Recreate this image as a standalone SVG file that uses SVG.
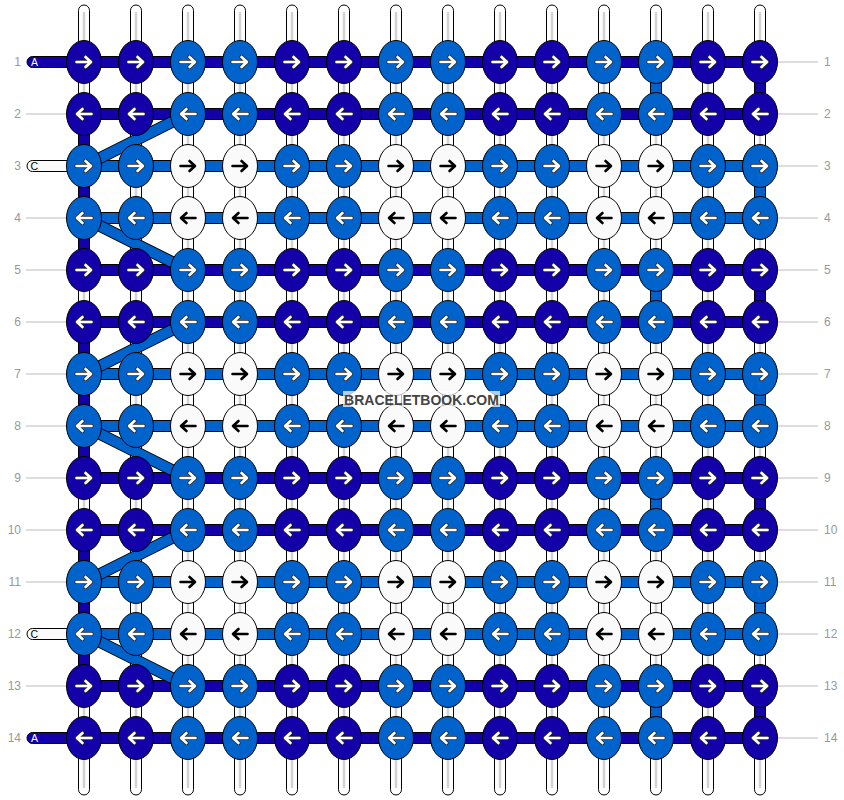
<svg xmlns="http://www.w3.org/2000/svg" xmlns:xlink="http://www.w3.org/1999/xlink" width="844" height="800" viewBox="0 0 844 800">
<style>
.str{fill:#fff;stroke:#000;stroke-width:1}
.core{stroke:#d2d2d2;stroke-width:2.5}
.bD{fill:#1300a8;stroke:#000;stroke-width:1}
.bM{fill:#0063cc;stroke:#000;stroke-width:1}
.bW{fill:#fafafa;stroke:#000;stroke-width:1}
.dgo{stroke:#000;stroke-width:12;fill:none}
.dgi{stroke:#0063cc;stroke-width:10;fill:none}
ellipse{stroke:#000;stroke-width:1}
.D{fill:#1300a8}
.M{fill:#0063cc}
.W{fill:#fafafa}
.aw{color:#2a2a2a;stroke:#fff}
.ab{color:transparent;stroke:#000}
.gl{stroke:#bbb;stroke-width:1}
.num{font-family:"Liberation Sans",Arial,sans-serif;font-size:12px;fill:#999}
.lt{font-family:"Liberation Sans",Arial,sans-serif;font-size:10.5px}
.wm{font-family:"Liberation Sans",Arial,sans-serif;font-size:14px;font-weight:bold;fill:#444}
</style>
<defs>
<g id="R" fill="none" stroke-linecap="round" stroke-linejoin="round"><path d="M-7.5,0H6.5M1.5,-5L7,0L1.5,5" stroke="currentColor" stroke-width="4.2"/><path d="M-7.5,0H6.5M1.5,-5L7,0L1.5,5" stroke-width="2.6"/></g>
<g id="L" fill="none" stroke-linecap="round" stroke-linejoin="round"><path d="M7.5,0H-6.5M-1.5,-5L-7,0L-1.5,5" stroke="currentColor" stroke-width="4.2"/><path d="M7.5,0H-6.5M-1.5,-5L-7,0L-1.5,5" stroke-width="2.6"/></g>
</defs>
<g id="connectors">
<g id="strands">
<rect class="str" x="78.5" y="5" width="11" height="790" rx="5.5"/><line class="core" x1="84" y1="12" x2="84" y2="788"/>
<rect class="str" x="130.5" y="5" width="11" height="790" rx="5.5"/><line class="core" x1="136" y1="12" x2="136" y2="788"/>
<rect class="str" x="182.5" y="5" width="11" height="790" rx="5.5"/><line class="core" x1="188" y1="12" x2="188" y2="788"/>
<rect class="str" x="234.5" y="5" width="11" height="790" rx="5.5"/><line class="core" x1="240" y1="12" x2="240" y2="788"/>
<rect class="str" x="286.5" y="5" width="11" height="790" rx="5.5"/><line class="core" x1="292" y1="12" x2="292" y2="788"/>
<rect class="str" x="338.5" y="5" width="11" height="790" rx="5.5"/><line class="core" x1="344" y1="12" x2="344" y2="788"/>
<rect class="str" x="390.5" y="5" width="11" height="790" rx="5.5"/><line class="core" x1="396" y1="12" x2="396" y2="788"/>
<rect class="str" x="442.5" y="5" width="11" height="790" rx="5.5"/><line class="core" x1="448" y1="12" x2="448" y2="788"/>
<rect class="str" x="494.5" y="5" width="11" height="790" rx="5.5"/><line class="core" x1="500" y1="12" x2="500" y2="788"/>
<rect class="str" x="546.5" y="5" width="11" height="790" rx="5.5"/><line class="core" x1="552" y1="12" x2="552" y2="788"/>
<rect class="str" x="598.5" y="5" width="11" height="790" rx="5.5"/><line class="core" x1="604" y1="12" x2="604" y2="788"/>
<rect class="str" x="650.5" y="5" width="11" height="790" rx="5.5"/><line class="core" x1="656" y1="12" x2="656" y2="788"/>
<rect class="str" x="702.5" y="5" width="11" height="790" rx="5.5"/><line class="core" x1="708" y1="12" x2="708" y2="788"/>
<rect class="str" x="754.5" y="5" width="11" height="790" rx="5.5"/><line class="core" x1="760" y1="12" x2="760" y2="788"/>
</g>
<g id="vsegs">
<rect class="bD" x="78.5" y="114" width="11" height="156"/>
<rect class="bD" x="78.5" y="322" width="11" height="156"/>
<rect class="bD" x="78.5" y="530" width="11" height="156"/>
<rect class="bM" x="650.5" y="62" width="11" height="52"/>
<rect class="bM" x="650.5" y="270" width="11" height="52"/>
<rect class="bM" x="650.5" y="478" width="11" height="52"/>
<rect class="bM" x="650.5" y="686" width="11" height="52"/>
<rect class="bD" x="754.5" y="62" width="11" height="52"/>
<rect class="bD" x="754.5" y="270" width="11" height="52"/>
<rect class="bD" x="754.5" y="478" width="11" height="52"/>
<rect class="bD" x="754.5" y="686" width="11" height="52"/>
<rect class="bM" x="754.5" y="166" width="11" height="52"/>
<rect class="bM" x="754.5" y="374" width="11" height="52"/>
<rect class="bM" x="754.5" y="582" width="11" height="52"/>
</g>
<g id="hbars">
<rect class="bD" x="84" y="56.5" width="676" height="11"/>
<rect class="bD" x="84" y="108.5" width="676" height="11"/>
<rect class="bM" x="84" y="160.5" width="676" height="11"/>
<rect class="bM" x="84" y="212.5" width="676" height="11"/>
<rect class="bD" x="84" y="264.5" width="676" height="11"/>
<rect class="bD" x="84" y="316.5" width="676" height="11"/>
<rect class="bM" x="84" y="368.5" width="676" height="11"/>
<rect class="bM" x="84" y="420.5" width="676" height="11"/>
<rect class="bD" x="84" y="472.5" width="676" height="11"/>
<rect class="bD" x="84" y="524.5" width="676" height="11"/>
<rect class="bM" x="84" y="576.5" width="676" height="11"/>
<rect class="bM" x="84" y="628.5" width="676" height="11"/>
<rect class="bD" x="84" y="680.5" width="676" height="11"/>
<rect class="bD" x="84" y="732.5" width="676" height="11"/>
</g>
<g id="starts">
<rect class="bD" x="27" y="56.5" width="62" height="11" rx="5.5"/>
<text class="lt" x="31" y="65.8" fill="#fff">A</text>
<rect class="bW" x="27" y="160.5" width="62" height="11" rx="5.5"/>
<text class="lt" x="30.5" y="169.8" fill="#000">C</text>
<rect class="bW" x="27" y="628.5" width="62" height="11" rx="5.5"/>
<text class="lt" x="30.5" y="637.8" fill="#000">C</text>
<rect class="bD" x="27" y="732.5" width="62" height="11" rx="5.5"/>
<text class="lt" x="31" y="741.8" fill="#fff">A</text>
</g>
<g id="diagonals">
<path class="dgo" d="M84,166L188,114"/><path class="dgi" d="M84,166L188,114"/>
<path class="dgo" d="M84,218L188,270"/><path class="dgi" d="M84,218L188,270"/>
<path class="dgo" d="M84,374L188,322"/><path class="dgi" d="M84,374L188,322"/>
<path class="dgo" d="M84,426L188,478"/><path class="dgi" d="M84,426L188,478"/>
<path class="dgo" d="M84,582L188,530"/><path class="dgi" d="M84,582L188,530"/>
<path class="dgo" d="M84,634L188,686"/><path class="dgi" d="M84,634L188,686"/>
</g>
<g id="guides">
<line class="gl" x1="26" y1="114" x2="67" y2="114"/>
<line class="gl" x1="26" y1="218" x2="67" y2="218"/>
<line class="gl" x1="26" y1="270" x2="67" y2="270"/>
<line class="gl" x1="26" y1="322" x2="67" y2="322"/>
<line class="gl" x1="26" y1="374" x2="67" y2="374"/>
<line class="gl" x1="26" y1="426" x2="67" y2="426"/>
<line class="gl" x1="26" y1="478" x2="67" y2="478"/>
<line class="gl" x1="26" y1="530" x2="67" y2="530"/>
<line class="gl" x1="26" y1="582" x2="67" y2="582"/>
<line class="gl" x1="26" y1="686" x2="67" y2="686"/>
<line class="gl" x1="777" y1="62" x2="818" y2="62"/>
<line class="gl" x1="777" y1="114" x2="818" y2="114"/>
<line class="gl" x1="777" y1="166" x2="818" y2="166"/>
<line class="gl" x1="777" y1="218" x2="818" y2="218"/>
<line class="gl" x1="777" y1="270" x2="818" y2="270"/>
<line class="gl" x1="777" y1="322" x2="818" y2="322"/>
<line class="gl" x1="777" y1="374" x2="818" y2="374"/>
<line class="gl" x1="777" y1="426" x2="818" y2="426"/>
<line class="gl" x1="777" y1="478" x2="818" y2="478"/>
<line class="gl" x1="777" y1="530" x2="818" y2="530"/>
<line class="gl" x1="777" y1="582" x2="818" y2="582"/>
<line class="gl" x1="777" y1="634" x2="818" y2="634"/>
<line class="gl" x1="777" y1="686" x2="818" y2="686"/>
<line class="gl" x1="777" y1="738" x2="818" y2="738"/>
</g>
</g>
<g id="labels">
<text class="num" x="21" y="66.3" text-anchor="end">1</text>
<text class="num" x="21" y="118.3" text-anchor="end">2</text>
<text class="num" x="21" y="170.3" text-anchor="end">3</text>
<text class="num" x="21" y="222.3" text-anchor="end">4</text>
<text class="num" x="21" y="274.3" text-anchor="end">5</text>
<text class="num" x="21" y="326.3" text-anchor="end">6</text>
<text class="num" x="21" y="378.3" text-anchor="end">7</text>
<text class="num" x="21" y="430.3" text-anchor="end">8</text>
<text class="num" x="21" y="482.3" text-anchor="end">9</text>
<text class="num" x="21" y="534.3" text-anchor="end">10</text>
<text class="num" x="21" y="586.3" text-anchor="end">11</text>
<text class="num" x="21" y="638.3" text-anchor="end">12</text>
<text class="num" x="21" y="690.3" text-anchor="end">13</text>
<text class="num" x="21" y="742.3" text-anchor="end">14</text>
<text class="num" x="824" y="66.3">1</text>
<text class="num" x="824" y="118.3">2</text>
<text class="num" x="824" y="170.3">3</text>
<text class="num" x="824" y="222.3">4</text>
<text class="num" x="824" y="274.3">5</text>
<text class="num" x="824" y="326.3">6</text>
<text class="num" x="824" y="378.3">7</text>
<text class="num" x="824" y="430.3">8</text>
<text class="num" x="824" y="482.3">9</text>
<text class="num" x="824" y="534.3">10</text>
<text class="num" x="824" y="586.3">11</text>
<text class="num" x="824" y="638.3">12</text>
<text class="num" x="824" y="690.3">13</text>
<text class="num" x="824" y="742.3">14</text>
</g>
<g id="knots">
<g id="r1">
<g id="k1_1"><ellipse class="D" cx="84" cy="62" rx="17.5" ry="21.5"/><use href="#R" x="84" y="62" class="aw"/></g>
<g id="k1_2"><ellipse class="D" cx="136" cy="62" rx="17.5" ry="21.5"/><use href="#R" x="136" y="62" class="aw"/></g>
<g id="k1_3"><ellipse class="M" cx="188" cy="62" rx="17.5" ry="21.5"/><use href="#R" x="188" y="62" class="aw"/></g>
<g id="k1_4"><ellipse class="M" cx="240" cy="62" rx="17.5" ry="21.5"/><use href="#R" x="240" y="62" class="aw"/></g>
<g id="k1_5"><ellipse class="D" cx="292" cy="62" rx="17.5" ry="21.5"/><use href="#R" x="292" y="62" class="aw"/></g>
<g id="k1_6"><ellipse class="D" cx="344" cy="62" rx="17.5" ry="21.5"/><use href="#R" x="344" y="62" class="aw"/></g>
<g id="k1_7"><ellipse class="M" cx="396" cy="62" rx="17.5" ry="21.5"/><use href="#R" x="396" y="62" class="aw"/></g>
<g id="k1_8"><ellipse class="M" cx="448" cy="62" rx="17.5" ry="21.5"/><use href="#R" x="448" y="62" class="aw"/></g>
<g id="k1_9"><ellipse class="D" cx="500" cy="62" rx="17.5" ry="21.5"/><use href="#R" x="500" y="62" class="aw"/></g>
<g id="k1_10"><ellipse class="D" cx="552" cy="62" rx="17.5" ry="21.5"/><use href="#R" x="552" y="62" class="aw"/></g>
<g id="k1_11"><ellipse class="M" cx="604" cy="62" rx="17.5" ry="21.5"/><use href="#R" x="604" y="62" class="aw"/></g>
<g id="k1_12"><ellipse class="M" cx="656" cy="62" rx="17.5" ry="21.5"/><use href="#R" x="656" y="62" class="aw"/></g>
<g id="k1_13"><ellipse class="D" cx="708" cy="62" rx="17.5" ry="21.5"/><use href="#R" x="708" y="62" class="aw"/></g>
<g id="k1_14"><ellipse class="D" cx="760" cy="62" rx="17.5" ry="21.5"/><use href="#R" x="760" y="62" class="aw"/></g>
</g>
<g id="r2">
<g id="k2_1"><ellipse class="D" cx="84" cy="114" rx="17.5" ry="21.5"/><use href="#L" x="84" y="114" class="aw"/></g>
<g id="k2_2"><ellipse class="D" cx="136" cy="114" rx="17.5" ry="21.5"/><use href="#L" x="136" y="114" class="aw"/></g>
<g id="k2_3"><ellipse class="M" cx="188" cy="114" rx="17.5" ry="21.5"/><use href="#L" x="188" y="114" class="aw"/></g>
<g id="k2_4"><ellipse class="M" cx="240" cy="114" rx="17.5" ry="21.5"/><use href="#L" x="240" y="114" class="aw"/></g>
<g id="k2_5"><ellipse class="D" cx="292" cy="114" rx="17.5" ry="21.5"/><use href="#L" x="292" y="114" class="aw"/></g>
<g id="k2_6"><ellipse class="D" cx="344" cy="114" rx="17.5" ry="21.5"/><use href="#L" x="344" y="114" class="aw"/></g>
<g id="k2_7"><ellipse class="M" cx="396" cy="114" rx="17.5" ry="21.5"/><use href="#L" x="396" y="114" class="aw"/></g>
<g id="k2_8"><ellipse class="M" cx="448" cy="114" rx="17.5" ry="21.5"/><use href="#L" x="448" y="114" class="aw"/></g>
<g id="k2_9"><ellipse class="D" cx="500" cy="114" rx="17.5" ry="21.5"/><use href="#L" x="500" y="114" class="aw"/></g>
<g id="k2_10"><ellipse class="D" cx="552" cy="114" rx="17.5" ry="21.5"/><use href="#L" x="552" y="114" class="aw"/></g>
<g id="k2_11"><ellipse class="M" cx="604" cy="114" rx="17.5" ry="21.5"/><use href="#L" x="604" y="114" class="aw"/></g>
<g id="k2_12"><ellipse class="M" cx="656" cy="114" rx="17.5" ry="21.5"/><use href="#L" x="656" y="114" class="aw"/></g>
<g id="k2_13"><ellipse class="D" cx="708" cy="114" rx="17.5" ry="21.5"/><use href="#L" x="708" y="114" class="aw"/></g>
<g id="k2_14"><ellipse class="D" cx="760" cy="114" rx="17.5" ry="21.5"/><use href="#L" x="760" y="114" class="aw"/></g>
</g>
<g id="r3">
<g id="k3_1"><ellipse class="M" cx="84" cy="166" rx="17.5" ry="21.5"/><use href="#R" x="84" y="166" class="aw"/></g>
<g id="k3_2"><ellipse class="M" cx="136" cy="166" rx="17.5" ry="21.5"/><use href="#R" x="136" y="166" class="aw"/></g>
<g id="k3_3"><ellipse class="W" cx="188" cy="166" rx="17.5" ry="21.5"/><use href="#R" x="188" y="166" class="ab"/></g>
<g id="k3_4"><ellipse class="W" cx="240" cy="166" rx="17.5" ry="21.5"/><use href="#R" x="240" y="166" class="ab"/></g>
<g id="k3_5"><ellipse class="M" cx="292" cy="166" rx="17.5" ry="21.5"/><use href="#R" x="292" y="166" class="aw"/></g>
<g id="k3_6"><ellipse class="M" cx="344" cy="166" rx="17.5" ry="21.5"/><use href="#R" x="344" y="166" class="aw"/></g>
<g id="k3_7"><ellipse class="W" cx="396" cy="166" rx="17.5" ry="21.5"/><use href="#R" x="396" y="166" class="ab"/></g>
<g id="k3_8"><ellipse class="W" cx="448" cy="166" rx="17.5" ry="21.5"/><use href="#R" x="448" y="166" class="ab"/></g>
<g id="k3_9"><ellipse class="M" cx="500" cy="166" rx="17.5" ry="21.5"/><use href="#R" x="500" y="166" class="aw"/></g>
<g id="k3_10"><ellipse class="M" cx="552" cy="166" rx="17.5" ry="21.5"/><use href="#R" x="552" y="166" class="aw"/></g>
<g id="k3_11"><ellipse class="W" cx="604" cy="166" rx="17.5" ry="21.5"/><use href="#R" x="604" y="166" class="ab"/></g>
<g id="k3_12"><ellipse class="W" cx="656" cy="166" rx="17.5" ry="21.5"/><use href="#R" x="656" y="166" class="ab"/></g>
<g id="k3_13"><ellipse class="M" cx="708" cy="166" rx="17.5" ry="21.5"/><use href="#R" x="708" y="166" class="aw"/></g>
<g id="k3_14"><ellipse class="M" cx="760" cy="166" rx="17.5" ry="21.5"/><use href="#R" x="760" y="166" class="aw"/></g>
</g>
<g id="r4">
<g id="k4_1"><ellipse class="M" cx="84" cy="218" rx="17.5" ry="21.5"/><use href="#L" x="84" y="218" class="aw"/></g>
<g id="k4_2"><ellipse class="M" cx="136" cy="218" rx="17.5" ry="21.5"/><use href="#L" x="136" y="218" class="aw"/></g>
<g id="k4_3"><ellipse class="W" cx="188" cy="218" rx="17.5" ry="21.5"/><use href="#L" x="188" y="218" class="ab"/></g>
<g id="k4_4"><ellipse class="W" cx="240" cy="218" rx="17.5" ry="21.5"/><use href="#L" x="240" y="218" class="ab"/></g>
<g id="k4_5"><ellipse class="M" cx="292" cy="218" rx="17.5" ry="21.5"/><use href="#L" x="292" y="218" class="aw"/></g>
<g id="k4_6"><ellipse class="M" cx="344" cy="218" rx="17.5" ry="21.5"/><use href="#L" x="344" y="218" class="aw"/></g>
<g id="k4_7"><ellipse class="W" cx="396" cy="218" rx="17.5" ry="21.5"/><use href="#L" x="396" y="218" class="ab"/></g>
<g id="k4_8"><ellipse class="W" cx="448" cy="218" rx="17.5" ry="21.5"/><use href="#L" x="448" y="218" class="ab"/></g>
<g id="k4_9"><ellipse class="M" cx="500" cy="218" rx="17.5" ry="21.5"/><use href="#L" x="500" y="218" class="aw"/></g>
<g id="k4_10"><ellipse class="M" cx="552" cy="218" rx="17.5" ry="21.5"/><use href="#L" x="552" y="218" class="aw"/></g>
<g id="k4_11"><ellipse class="W" cx="604" cy="218" rx="17.5" ry="21.5"/><use href="#L" x="604" y="218" class="ab"/></g>
<g id="k4_12"><ellipse class="W" cx="656" cy="218" rx="17.5" ry="21.5"/><use href="#L" x="656" y="218" class="ab"/></g>
<g id="k4_13"><ellipse class="M" cx="708" cy="218" rx="17.5" ry="21.5"/><use href="#L" x="708" y="218" class="aw"/></g>
<g id="k4_14"><ellipse class="M" cx="760" cy="218" rx="17.5" ry="21.5"/><use href="#L" x="760" y="218" class="aw"/></g>
</g>
<g id="r5">
<g id="k5_1"><ellipse class="D" cx="84" cy="270" rx="17.5" ry="21.5"/><use href="#R" x="84" y="270" class="aw"/></g>
<g id="k5_2"><ellipse class="D" cx="136" cy="270" rx="17.5" ry="21.5"/><use href="#R" x="136" y="270" class="aw"/></g>
<g id="k5_3"><ellipse class="M" cx="188" cy="270" rx="17.5" ry="21.5"/><use href="#R" x="188" y="270" class="aw"/></g>
<g id="k5_4"><ellipse class="M" cx="240" cy="270" rx="17.5" ry="21.5"/><use href="#R" x="240" y="270" class="aw"/></g>
<g id="k5_5"><ellipse class="D" cx="292" cy="270" rx="17.5" ry="21.5"/><use href="#R" x="292" y="270" class="aw"/></g>
<g id="k5_6"><ellipse class="D" cx="344" cy="270" rx="17.5" ry="21.5"/><use href="#R" x="344" y="270" class="aw"/></g>
<g id="k5_7"><ellipse class="M" cx="396" cy="270" rx="17.5" ry="21.5"/><use href="#R" x="396" y="270" class="aw"/></g>
<g id="k5_8"><ellipse class="M" cx="448" cy="270" rx="17.5" ry="21.5"/><use href="#R" x="448" y="270" class="aw"/></g>
<g id="k5_9"><ellipse class="D" cx="500" cy="270" rx="17.5" ry="21.5"/><use href="#R" x="500" y="270" class="aw"/></g>
<g id="k5_10"><ellipse class="D" cx="552" cy="270" rx="17.5" ry="21.5"/><use href="#R" x="552" y="270" class="aw"/></g>
<g id="k5_11"><ellipse class="M" cx="604" cy="270" rx="17.5" ry="21.5"/><use href="#R" x="604" y="270" class="aw"/></g>
<g id="k5_12"><ellipse class="M" cx="656" cy="270" rx="17.5" ry="21.5"/><use href="#R" x="656" y="270" class="aw"/></g>
<g id="k5_13"><ellipse class="D" cx="708" cy="270" rx="17.5" ry="21.5"/><use href="#R" x="708" y="270" class="aw"/></g>
<g id="k5_14"><ellipse class="D" cx="760" cy="270" rx="17.5" ry="21.5"/><use href="#R" x="760" y="270" class="aw"/></g>
</g>
<g id="r6">
<g id="k6_1"><ellipse class="D" cx="84" cy="322" rx="17.5" ry="21.5"/><use href="#L" x="84" y="322" class="aw"/></g>
<g id="k6_2"><ellipse class="D" cx="136" cy="322" rx="17.5" ry="21.5"/><use href="#L" x="136" y="322" class="aw"/></g>
<g id="k6_3"><ellipse class="M" cx="188" cy="322" rx="17.5" ry="21.5"/><use href="#L" x="188" y="322" class="aw"/></g>
<g id="k6_4"><ellipse class="M" cx="240" cy="322" rx="17.5" ry="21.5"/><use href="#L" x="240" y="322" class="aw"/></g>
<g id="k6_5"><ellipse class="D" cx="292" cy="322" rx="17.5" ry="21.5"/><use href="#L" x="292" y="322" class="aw"/></g>
<g id="k6_6"><ellipse class="D" cx="344" cy="322" rx="17.5" ry="21.5"/><use href="#L" x="344" y="322" class="aw"/></g>
<g id="k6_7"><ellipse class="M" cx="396" cy="322" rx="17.5" ry="21.5"/><use href="#L" x="396" y="322" class="aw"/></g>
<g id="k6_8"><ellipse class="M" cx="448" cy="322" rx="17.5" ry="21.5"/><use href="#L" x="448" y="322" class="aw"/></g>
<g id="k6_9"><ellipse class="D" cx="500" cy="322" rx="17.5" ry="21.5"/><use href="#L" x="500" y="322" class="aw"/></g>
<g id="k6_10"><ellipse class="D" cx="552" cy="322" rx="17.5" ry="21.5"/><use href="#L" x="552" y="322" class="aw"/></g>
<g id="k6_11"><ellipse class="M" cx="604" cy="322" rx="17.5" ry="21.5"/><use href="#L" x="604" y="322" class="aw"/></g>
<g id="k6_12"><ellipse class="M" cx="656" cy="322" rx="17.5" ry="21.5"/><use href="#L" x="656" y="322" class="aw"/></g>
<g id="k6_13"><ellipse class="D" cx="708" cy="322" rx="17.5" ry="21.5"/><use href="#L" x="708" y="322" class="aw"/></g>
<g id="k6_14"><ellipse class="D" cx="760" cy="322" rx="17.5" ry="21.5"/><use href="#L" x="760" y="322" class="aw"/></g>
</g>
<g id="r7">
<g id="k7_1"><ellipse class="M" cx="84" cy="374" rx="17.5" ry="21.5"/><use href="#R" x="84" y="374" class="aw"/></g>
<g id="k7_2"><ellipse class="M" cx="136" cy="374" rx="17.5" ry="21.5"/><use href="#R" x="136" y="374" class="aw"/></g>
<g id="k7_3"><ellipse class="W" cx="188" cy="374" rx="17.5" ry="21.5"/><use href="#R" x="188" y="374" class="ab"/></g>
<g id="k7_4"><ellipse class="W" cx="240" cy="374" rx="17.5" ry="21.5"/><use href="#R" x="240" y="374" class="ab"/></g>
<g id="k7_5"><ellipse class="M" cx="292" cy="374" rx="17.5" ry="21.5"/><use href="#R" x="292" y="374" class="aw"/></g>
<g id="k7_6"><ellipse class="M" cx="344" cy="374" rx="17.5" ry="21.5"/><use href="#R" x="344" y="374" class="aw"/></g>
<g id="k7_7"><ellipse class="W" cx="396" cy="374" rx="17.5" ry="21.5"/><use href="#R" x="396" y="374" class="ab"/></g>
<g id="k7_8"><ellipse class="W" cx="448" cy="374" rx="17.5" ry="21.5"/><use href="#R" x="448" y="374" class="ab"/></g>
<g id="k7_9"><ellipse class="M" cx="500" cy="374" rx="17.5" ry="21.5"/><use href="#R" x="500" y="374" class="aw"/></g>
<g id="k7_10"><ellipse class="M" cx="552" cy="374" rx="17.5" ry="21.5"/><use href="#R" x="552" y="374" class="aw"/></g>
<g id="k7_11"><ellipse class="W" cx="604" cy="374" rx="17.5" ry="21.5"/><use href="#R" x="604" y="374" class="ab"/></g>
<g id="k7_12"><ellipse class="W" cx="656" cy="374" rx="17.5" ry="21.5"/><use href="#R" x="656" y="374" class="ab"/></g>
<g id="k7_13"><ellipse class="M" cx="708" cy="374" rx="17.5" ry="21.5"/><use href="#R" x="708" y="374" class="aw"/></g>
<g id="k7_14"><ellipse class="M" cx="760" cy="374" rx="17.5" ry="21.5"/><use href="#R" x="760" y="374" class="aw"/></g>
</g>
<g id="r8">
<g id="k8_1"><ellipse class="M" cx="84" cy="426" rx="17.5" ry="21.5"/><use href="#L" x="84" y="426" class="aw"/></g>
<g id="k8_2"><ellipse class="M" cx="136" cy="426" rx="17.5" ry="21.5"/><use href="#L" x="136" y="426" class="aw"/></g>
<g id="k8_3"><ellipse class="W" cx="188" cy="426" rx="17.5" ry="21.5"/><use href="#L" x="188" y="426" class="ab"/></g>
<g id="k8_4"><ellipse class="W" cx="240" cy="426" rx="17.5" ry="21.5"/><use href="#L" x="240" y="426" class="ab"/></g>
<g id="k8_5"><ellipse class="M" cx="292" cy="426" rx="17.5" ry="21.5"/><use href="#L" x="292" y="426" class="aw"/></g>
<g id="k8_6"><ellipse class="M" cx="344" cy="426" rx="17.5" ry="21.5"/><use href="#L" x="344" y="426" class="aw"/></g>
<g id="k8_7"><ellipse class="W" cx="396" cy="426" rx="17.5" ry="21.5"/><use href="#L" x="396" y="426" class="ab"/></g>
<g id="k8_8"><ellipse class="W" cx="448" cy="426" rx="17.5" ry="21.5"/><use href="#L" x="448" y="426" class="ab"/></g>
<g id="k8_9"><ellipse class="M" cx="500" cy="426" rx="17.5" ry="21.5"/><use href="#L" x="500" y="426" class="aw"/></g>
<g id="k8_10"><ellipse class="M" cx="552" cy="426" rx="17.5" ry="21.5"/><use href="#L" x="552" y="426" class="aw"/></g>
<g id="k8_11"><ellipse class="W" cx="604" cy="426" rx="17.5" ry="21.5"/><use href="#L" x="604" y="426" class="ab"/></g>
<g id="k8_12"><ellipse class="W" cx="656" cy="426" rx="17.5" ry="21.5"/><use href="#L" x="656" y="426" class="ab"/></g>
<g id="k8_13"><ellipse class="M" cx="708" cy="426" rx="17.5" ry="21.5"/><use href="#L" x="708" y="426" class="aw"/></g>
<g id="k8_14"><ellipse class="M" cx="760" cy="426" rx="17.5" ry="21.5"/><use href="#L" x="760" y="426" class="aw"/></g>
</g>
<g id="r9">
<g id="k9_1"><ellipse class="D" cx="84" cy="478" rx="17.5" ry="21.5"/><use href="#R" x="84" y="478" class="aw"/></g>
<g id="k9_2"><ellipse class="D" cx="136" cy="478" rx="17.5" ry="21.5"/><use href="#R" x="136" y="478" class="aw"/></g>
<g id="k9_3"><ellipse class="M" cx="188" cy="478" rx="17.5" ry="21.5"/><use href="#R" x="188" y="478" class="aw"/></g>
<g id="k9_4"><ellipse class="M" cx="240" cy="478" rx="17.5" ry="21.5"/><use href="#R" x="240" y="478" class="aw"/></g>
<g id="k9_5"><ellipse class="D" cx="292" cy="478" rx="17.5" ry="21.5"/><use href="#R" x="292" y="478" class="aw"/></g>
<g id="k9_6"><ellipse class="D" cx="344" cy="478" rx="17.5" ry="21.5"/><use href="#R" x="344" y="478" class="aw"/></g>
<g id="k9_7"><ellipse class="M" cx="396" cy="478" rx="17.5" ry="21.5"/><use href="#R" x="396" y="478" class="aw"/></g>
<g id="k9_8"><ellipse class="M" cx="448" cy="478" rx="17.5" ry="21.5"/><use href="#R" x="448" y="478" class="aw"/></g>
<g id="k9_9"><ellipse class="D" cx="500" cy="478" rx="17.5" ry="21.5"/><use href="#R" x="500" y="478" class="aw"/></g>
<g id="k9_10"><ellipse class="D" cx="552" cy="478" rx="17.5" ry="21.5"/><use href="#R" x="552" y="478" class="aw"/></g>
<g id="k9_11"><ellipse class="M" cx="604" cy="478" rx="17.5" ry="21.5"/><use href="#R" x="604" y="478" class="aw"/></g>
<g id="k9_12"><ellipse class="M" cx="656" cy="478" rx="17.5" ry="21.5"/><use href="#R" x="656" y="478" class="aw"/></g>
<g id="k9_13"><ellipse class="D" cx="708" cy="478" rx="17.5" ry="21.5"/><use href="#R" x="708" y="478" class="aw"/></g>
<g id="k9_14"><ellipse class="D" cx="760" cy="478" rx="17.5" ry="21.5"/><use href="#R" x="760" y="478" class="aw"/></g>
</g>
<g id="r10">
<g id="k10_1"><ellipse class="D" cx="84" cy="530" rx="17.5" ry="21.5"/><use href="#L" x="84" y="530" class="aw"/></g>
<g id="k10_2"><ellipse class="D" cx="136" cy="530" rx="17.5" ry="21.5"/><use href="#L" x="136" y="530" class="aw"/></g>
<g id="k10_3"><ellipse class="M" cx="188" cy="530" rx="17.5" ry="21.5"/><use href="#L" x="188" y="530" class="aw"/></g>
<g id="k10_4"><ellipse class="M" cx="240" cy="530" rx="17.5" ry="21.5"/><use href="#L" x="240" y="530" class="aw"/></g>
<g id="k10_5"><ellipse class="D" cx="292" cy="530" rx="17.5" ry="21.5"/><use href="#L" x="292" y="530" class="aw"/></g>
<g id="k10_6"><ellipse class="D" cx="344" cy="530" rx="17.5" ry="21.5"/><use href="#L" x="344" y="530" class="aw"/></g>
<g id="k10_7"><ellipse class="M" cx="396" cy="530" rx="17.5" ry="21.5"/><use href="#L" x="396" y="530" class="aw"/></g>
<g id="k10_8"><ellipse class="M" cx="448" cy="530" rx="17.5" ry="21.5"/><use href="#L" x="448" y="530" class="aw"/></g>
<g id="k10_9"><ellipse class="D" cx="500" cy="530" rx="17.5" ry="21.5"/><use href="#L" x="500" y="530" class="aw"/></g>
<g id="k10_10"><ellipse class="D" cx="552" cy="530" rx="17.5" ry="21.5"/><use href="#L" x="552" y="530" class="aw"/></g>
<g id="k10_11"><ellipse class="M" cx="604" cy="530" rx="17.5" ry="21.5"/><use href="#L" x="604" y="530" class="aw"/></g>
<g id="k10_12"><ellipse class="M" cx="656" cy="530" rx="17.5" ry="21.5"/><use href="#L" x="656" y="530" class="aw"/></g>
<g id="k10_13"><ellipse class="D" cx="708" cy="530" rx="17.5" ry="21.5"/><use href="#L" x="708" y="530" class="aw"/></g>
<g id="k10_14"><ellipse class="D" cx="760" cy="530" rx="17.5" ry="21.5"/><use href="#L" x="760" y="530" class="aw"/></g>
</g>
<g id="r11">
<g id="k11_1"><ellipse class="M" cx="84" cy="582" rx="17.5" ry="21.5"/><use href="#R" x="84" y="582" class="aw"/></g>
<g id="k11_2"><ellipse class="M" cx="136" cy="582" rx="17.5" ry="21.5"/><use href="#R" x="136" y="582" class="aw"/></g>
<g id="k11_3"><ellipse class="W" cx="188" cy="582" rx="17.5" ry="21.5"/><use href="#R" x="188" y="582" class="ab"/></g>
<g id="k11_4"><ellipse class="W" cx="240" cy="582" rx="17.5" ry="21.5"/><use href="#R" x="240" y="582" class="ab"/></g>
<g id="k11_5"><ellipse class="M" cx="292" cy="582" rx="17.5" ry="21.5"/><use href="#R" x="292" y="582" class="aw"/></g>
<g id="k11_6"><ellipse class="M" cx="344" cy="582" rx="17.5" ry="21.5"/><use href="#R" x="344" y="582" class="aw"/></g>
<g id="k11_7"><ellipse class="W" cx="396" cy="582" rx="17.5" ry="21.5"/><use href="#R" x="396" y="582" class="ab"/></g>
<g id="k11_8"><ellipse class="W" cx="448" cy="582" rx="17.5" ry="21.5"/><use href="#R" x="448" y="582" class="ab"/></g>
<g id="k11_9"><ellipse class="M" cx="500" cy="582" rx="17.5" ry="21.5"/><use href="#R" x="500" y="582" class="aw"/></g>
<g id="k11_10"><ellipse class="M" cx="552" cy="582" rx="17.5" ry="21.5"/><use href="#R" x="552" y="582" class="aw"/></g>
<g id="k11_11"><ellipse class="W" cx="604" cy="582" rx="17.5" ry="21.5"/><use href="#R" x="604" y="582" class="ab"/></g>
<g id="k11_12"><ellipse class="W" cx="656" cy="582" rx="17.5" ry="21.5"/><use href="#R" x="656" y="582" class="ab"/></g>
<g id="k11_13"><ellipse class="M" cx="708" cy="582" rx="17.5" ry="21.5"/><use href="#R" x="708" y="582" class="aw"/></g>
<g id="k11_14"><ellipse class="M" cx="760" cy="582" rx="17.5" ry="21.5"/><use href="#R" x="760" y="582" class="aw"/></g>
</g>
<g id="r12">
<g id="k12_1"><ellipse class="M" cx="84" cy="634" rx="17.5" ry="21.5"/><use href="#L" x="84" y="634" class="aw"/></g>
<g id="k12_2"><ellipse class="M" cx="136" cy="634" rx="17.5" ry="21.5"/><use href="#L" x="136" y="634" class="aw"/></g>
<g id="k12_3"><ellipse class="W" cx="188" cy="634" rx="17.5" ry="21.5"/><use href="#L" x="188" y="634" class="ab"/></g>
<g id="k12_4"><ellipse class="W" cx="240" cy="634" rx="17.5" ry="21.5"/><use href="#L" x="240" y="634" class="ab"/></g>
<g id="k12_5"><ellipse class="M" cx="292" cy="634" rx="17.5" ry="21.5"/><use href="#L" x="292" y="634" class="aw"/></g>
<g id="k12_6"><ellipse class="M" cx="344" cy="634" rx="17.5" ry="21.5"/><use href="#L" x="344" y="634" class="aw"/></g>
<g id="k12_7"><ellipse class="W" cx="396" cy="634" rx="17.5" ry="21.5"/><use href="#L" x="396" y="634" class="ab"/></g>
<g id="k12_8"><ellipse class="W" cx="448" cy="634" rx="17.5" ry="21.5"/><use href="#L" x="448" y="634" class="ab"/></g>
<g id="k12_9"><ellipse class="M" cx="500" cy="634" rx="17.5" ry="21.5"/><use href="#L" x="500" y="634" class="aw"/></g>
<g id="k12_10"><ellipse class="M" cx="552" cy="634" rx="17.5" ry="21.5"/><use href="#L" x="552" y="634" class="aw"/></g>
<g id="k12_11"><ellipse class="W" cx="604" cy="634" rx="17.5" ry="21.5"/><use href="#L" x="604" y="634" class="ab"/></g>
<g id="k12_12"><ellipse class="W" cx="656" cy="634" rx="17.5" ry="21.5"/><use href="#L" x="656" y="634" class="ab"/></g>
<g id="k12_13"><ellipse class="M" cx="708" cy="634" rx="17.5" ry="21.5"/><use href="#L" x="708" y="634" class="aw"/></g>
<g id="k12_14"><ellipse class="M" cx="760" cy="634" rx="17.5" ry="21.5"/><use href="#L" x="760" y="634" class="aw"/></g>
</g>
<g id="r13">
<g id="k13_1"><ellipse class="D" cx="84" cy="686" rx="17.5" ry="21.5"/><use href="#R" x="84" y="686" class="aw"/></g>
<g id="k13_2"><ellipse class="D" cx="136" cy="686" rx="17.5" ry="21.5"/><use href="#R" x="136" y="686" class="aw"/></g>
<g id="k13_3"><ellipse class="M" cx="188" cy="686" rx="17.5" ry="21.5"/><use href="#R" x="188" y="686" class="aw"/></g>
<g id="k13_4"><ellipse class="M" cx="240" cy="686" rx="17.5" ry="21.5"/><use href="#R" x="240" y="686" class="aw"/></g>
<g id="k13_5"><ellipse class="D" cx="292" cy="686" rx="17.5" ry="21.5"/><use href="#R" x="292" y="686" class="aw"/></g>
<g id="k13_6"><ellipse class="D" cx="344" cy="686" rx="17.5" ry="21.5"/><use href="#R" x="344" y="686" class="aw"/></g>
<g id="k13_7"><ellipse class="M" cx="396" cy="686" rx="17.5" ry="21.5"/><use href="#R" x="396" y="686" class="aw"/></g>
<g id="k13_8"><ellipse class="M" cx="448" cy="686" rx="17.5" ry="21.5"/><use href="#R" x="448" y="686" class="aw"/></g>
<g id="k13_9"><ellipse class="D" cx="500" cy="686" rx="17.5" ry="21.5"/><use href="#R" x="500" y="686" class="aw"/></g>
<g id="k13_10"><ellipse class="D" cx="552" cy="686" rx="17.5" ry="21.5"/><use href="#R" x="552" y="686" class="aw"/></g>
<g id="k13_11"><ellipse class="M" cx="604" cy="686" rx="17.5" ry="21.5"/><use href="#R" x="604" y="686" class="aw"/></g>
<g id="k13_12"><ellipse class="M" cx="656" cy="686" rx="17.5" ry="21.5"/><use href="#R" x="656" y="686" class="aw"/></g>
<g id="k13_13"><ellipse class="D" cx="708" cy="686" rx="17.5" ry="21.5"/><use href="#R" x="708" y="686" class="aw"/></g>
<g id="k13_14"><ellipse class="D" cx="760" cy="686" rx="17.5" ry="21.5"/><use href="#R" x="760" y="686" class="aw"/></g>
</g>
<g id="r14">
<g id="k14_1"><ellipse class="D" cx="84" cy="738" rx="17.5" ry="21.5"/><use href="#L" x="84" y="738" class="aw"/></g>
<g id="k14_2"><ellipse class="D" cx="136" cy="738" rx="17.5" ry="21.5"/><use href="#L" x="136" y="738" class="aw"/></g>
<g id="k14_3"><ellipse class="M" cx="188" cy="738" rx="17.5" ry="21.5"/><use href="#L" x="188" y="738" class="aw"/></g>
<g id="k14_4"><ellipse class="M" cx="240" cy="738" rx="17.5" ry="21.5"/><use href="#L" x="240" y="738" class="aw"/></g>
<g id="k14_5"><ellipse class="D" cx="292" cy="738" rx="17.5" ry="21.5"/><use href="#L" x="292" y="738" class="aw"/></g>
<g id="k14_6"><ellipse class="D" cx="344" cy="738" rx="17.5" ry="21.5"/><use href="#L" x="344" y="738" class="aw"/></g>
<g id="k14_7"><ellipse class="M" cx="396" cy="738" rx="17.5" ry="21.5"/><use href="#L" x="396" y="738" class="aw"/></g>
<g id="k14_8"><ellipse class="M" cx="448" cy="738" rx="17.5" ry="21.5"/><use href="#L" x="448" y="738" class="aw"/></g>
<g id="k14_9"><ellipse class="D" cx="500" cy="738" rx="17.5" ry="21.5"/><use href="#L" x="500" y="738" class="aw"/></g>
<g id="k14_10"><ellipse class="D" cx="552" cy="738" rx="17.5" ry="21.5"/><use href="#L" x="552" y="738" class="aw"/></g>
<g id="k14_11"><ellipse class="M" cx="604" cy="738" rx="17.5" ry="21.5"/><use href="#L" x="604" y="738" class="aw"/></g>
<g id="k14_12"><ellipse class="M" cx="656" cy="738" rx="17.5" ry="21.5"/><use href="#L" x="656" y="738" class="aw"/></g>
<g id="k14_13"><ellipse class="D" cx="708" cy="738" rx="17.5" ry="21.5"/><use href="#L" x="708" y="738" class="aw"/></g>
<g id="k14_14"><ellipse class="D" cx="760" cy="738" rx="17.5" ry="21.5"/><use href="#L" x="760" y="738" class="aw"/></g>
</g>
</g>
<g id="watermark">
<rect x="343" y="391" width="157" height="16" fill="#fff" fill-opacity="0.7"/>
<text class="wm" x="421.5" y="404.5" text-anchor="middle">BRACELETBOOK.COM</text>
</g>
</svg>
